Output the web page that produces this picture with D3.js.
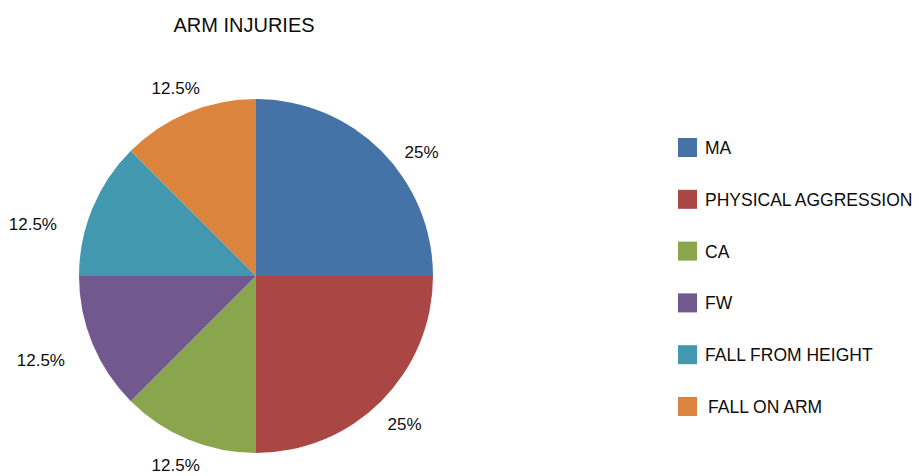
<!DOCTYPE html>
<html>
<head>
<meta charset="utf-8">
<script src="https://cdn.jsdelivr.net/npm/d3@7/dist/d3.min.js"></script>
<style>
  html, body { margin: 0; padding: 0; background: #fff; }
  svg { display: block; }
  text { font-family: "Liberation Sans", Arial, sans-serif; fill: #0d0d0d; }
</style>
</head>
<body>
<svg id="chart" width="919" height="476"></svg>
<script>
// Arm injury causes and their share of cases (%)
const categories = ["MA", "PHYSICAL AGGRESSION", "CA", "FW", "FALL FROM HEIGHT", "FALL ON ARM"];
const shares = [25, 25, 12.5, 12.5, 12.5, 12.5];
const colors = ["#4572A7", "#AA4643", "#89A54E", "#71588F", "#4198AF", "#DB843D"];
const title = "ARM INJURIES";

const svg = d3.select("#chart");
const cx = 256, cy = 276, radius = 177;

svg.append("text")
  .attr("x", 244).attr("y", 32)
  .attr("text-anchor", "middle")
  .style("font-size", "20px")
  .text(title);

const color = d3.scaleOrdinal().domain(categories).range(colors);

const pie = d3.pie().sort(null).value(d => d.value);
const data = categories.map((c, i) => ({ name: c, value: shares[i] }));
const arcs = pie(data);

const arc = d3.arc().innerRadius(0).outerRadius(radius);
const labelArc = d3.arc().innerRadius(210).outerRadius(210);

// small per-slice shifts so the outside labels clear one another
const labelShift = [[0, 25], [-17, 0], [0, -5], [3, 4], [-5, 28], [0, 6]];

const g = svg.append("g").attr("transform", `translate(${cx},${cy})`);

g.selectAll("path.slice")
  .data(arcs)
  .join("path")
  .attr("class", "slice")
  .attr("d", arc)
  .attr("fill", d => color(d.data.name));

const fmt = v => (Number.isInteger(v) ? v : v.toFixed(1)) + "%";

g.selectAll("text.pct")
  .data(arcs)
  .join("text")
  .attr("class", "pct")
  .attr("transform", (d, i) => {
    const [x, y] = labelArc.centroid(d);
    return `translate(${x + labelShift[i][0]},${y + labelShift[i][1]})`;
  })
  .attr("text-anchor", d => {
    const [x] = labelArc.centroid(d);
    return x < -120 ? "end" : (x > 120 ? "start" : "middle");
  })
  .attr("dy", "0.35em")
  .style("font-size", "17px")
  .text(d => fmt(d.data.value));

// Legend
const legend = svg.append("g");
const rowStep = 51.8;
const items = legend.selectAll("g.item")
  .data(categories)
  .join("g")
  .attr("class", "item")
  .attr("transform", (d, i) => `translate(678,${154 + i * rowStep})`);

items.append("rect")
  .attr("x", 0).attr("y", -16)
  .attr("width", 19).attr("height", 19)
  .attr("fill", d => color(d));

items.append("text")
  .attr("x", (d, i) => i === categories.length - 1 ? 30 : 27).attr("y", 0)
  .style("font-size", "17.5px")
  .text(d => d);
</script>
</body>
</html>
